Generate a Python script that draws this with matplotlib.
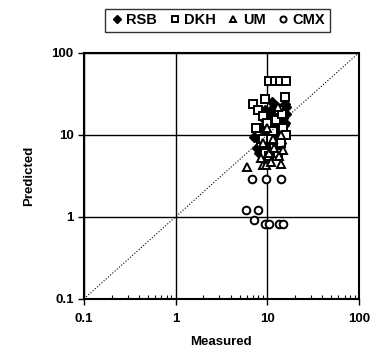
import numpy as np
import matplotlib.pyplot as plt
from matplotlib.ticker import LogLocator, NullFormatter, FixedLocator

plt.rcParams['font.family'] = ['Liberation Sans', 'DejaVu Sans']
plt.rcParams['font.weight'] = 'bold'

# Measured vs predicted values
rsb_x = [8.0, 8.5, 9.0, 9.5, 10.0, 10.5, 11.0, 12.0, 13.0, 14.0, 15.0, 16.0, 8.2, 9.2, 10.2,
         11.5, 12.5, 13.5, 14.5, 15.5, 8.8, 9.8, 10.8, 12.2, 13.2, 14.2, 15.2, 16.2, 11.2, 12.8,
         7.2, 7.8, 9.4, 10.6, 11.8, 13.8, 15.8, 12.6]
rsb_y = [9, 12, 7, 15, 10, 18, 20, 8, 14, 11, 16, 22, 6, 11, 13,
         9, 17, 12, 19, 24, 8, 6, 7.5, 10, 6.5, 8, 13, 18, 25, 22,
         9.5, 7, 20, 16, 12, 15, 14, 6]

dkh_x = [10.4, 12.1, 13.7, 16.2, 9.5, 15.5, 7.0, 8.0, 9.0, 10.0, 11.0, 12.0, 13.0, 14.0, 15.0,
         16.0, 8.5, 9.5, 10.5, 11.5, 12.5, 13.5, 14.5, 7.5, 9.0]
dkh_y = [45, 45, 45, 45, 27, 29, 24, 20, 17, 14, 9, 7, 6, 8, 12,
         10, 8, 6, 5.5, 11, 15, 20, 18, 12, 9]

um_x = [6.0, 9.0, 9.7, 11.0, 14.2, 10.5, 12.0, 13.5, 8.5, 15.0, 11.5, 10.0, 13.0, 9.0, 14.0]
um_y = [4.0, 4.3, 4.3, 4.6, 4.4, 6.0, 7.0, 5.5, 5.2, 6.5, 9.0, 12.0, 22.0, 8.0, 10.0]

cmx_x = [6.8, 9.6, 14.1, 5.8, 8.0, 7.1, 9.4, 10.5, 13.4, 14.9]
cmx_y = [2.9, 2.9, 2.9, 1.2, 1.2, 0.92, 0.82, 0.82, 0.82, 0.82]

fig = plt.figure(figsize=(3.73, 3.52), dpi=100)
ax = fig.add_axes([0.225, 0.151, 0.737, 0.699])

ms = 5.5
ax.plot(rsb_x, rsb_y, 'D', color='black', markersize=5, linestyle='none', label='RSB')
ax.plot(dkh_x, dkh_y, 's', mfc='white', mec='black', mew=1.4, markersize=ms, linestyle='none', label='DKH')
ax.plot(um_x, um_y, '^', mfc='white', mec='black', mew=1.4, markersize=ms, linestyle='none', label='UM')
ax.plot(cmx_x, cmx_y, 'o', mfc='white', mec='black', mew=1.4, markersize=ms, linestyle='none', label='CMX')

# 1:1 line
ax.plot([0.1, 100], [0.1, 100], linestyle=':', color='black', linewidth=0.8)

ax.set_xscale('log')
ax.set_yscale('log')
ax.set_xlim(0.1, 100)
ax.set_ylim(0.1, 100)

ticks = [0.1, 1, 10, 100]
ax.xaxis.set_major_locator(FixedLocator(ticks))
ax.yaxis.set_major_locator(FixedLocator(ticks))
ax.set_xticklabels(['0.1', '1', '10', '100'])
ax.set_yticklabels(['0.1', '1', '10', '100'])
ax.xaxis.set_minor_locator(LogLocator(base=10, subs=np.arange(2, 10)))
ax.xaxis.set_minor_formatter(NullFormatter())
ax.yaxis.set_minor_locator(FixedLocator([]))
ax.tick_params(axis='both', which='major', labelsize=9.5, length=4, width=1, direction='out')
ax.tick_params(axis='x', which='major', pad=6)
ax.tick_params(axis='x', which='minor', length=3, width=0.8, direction='in')

ax.grid(True, which='major', color='black', linewidth=1)
for s in ax.spines.values():
    s.set_linewidth(1.5)

ax.set_xlabel('Measured', fontsize=9.5, fontweight='bold', labelpad=8)
ax.set_ylabel('Predicted', fontsize=9.5, fontweight='bold', labelpad=12)

fig.legend(loc='upper center', bbox_to_anchor=(0.583, 0.995), ncol=4, fontsize=10.5,
           frameon=True, fancybox=False, edgecolor='black', handletextpad=0.15,
           columnspacing=0.7, handlelength=1.0, borderpad=0.3, markerscale=0.8)

plt.savefig('out.png', dpi=100)
